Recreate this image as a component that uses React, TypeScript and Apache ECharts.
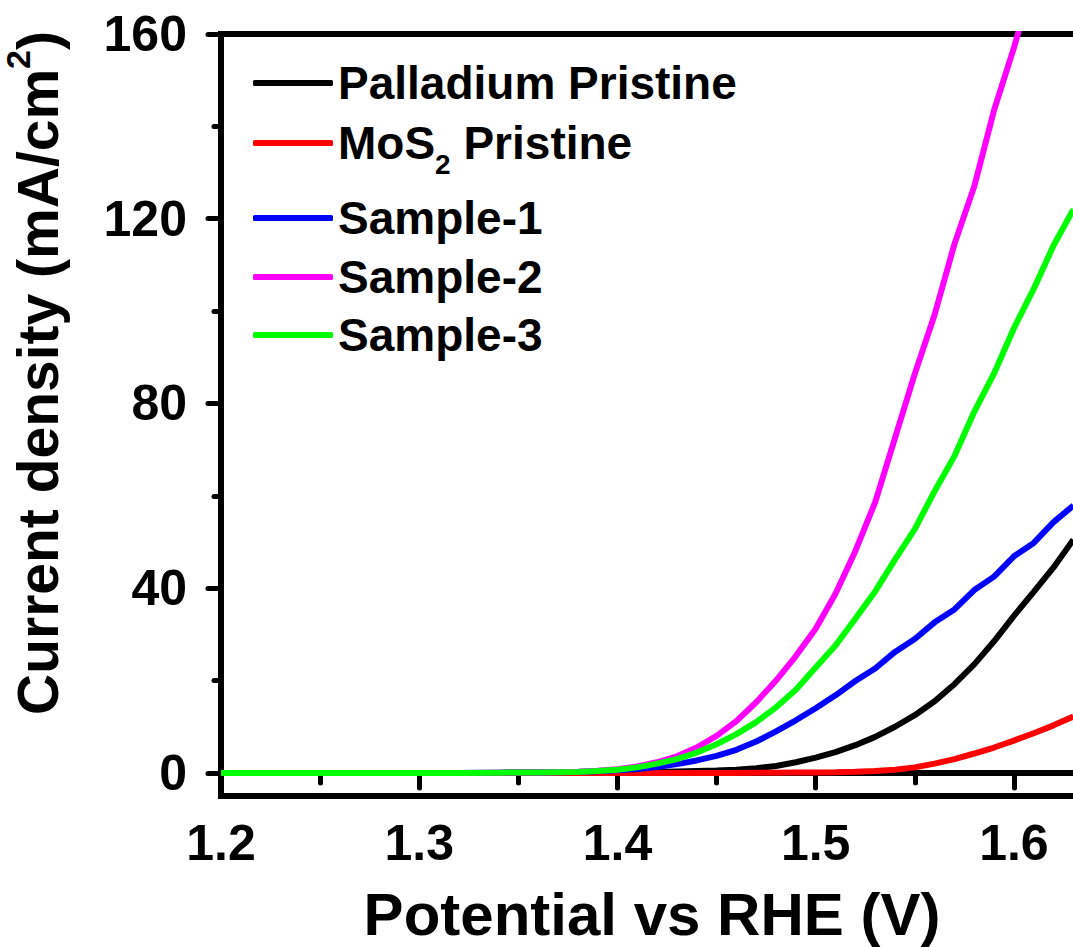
import React, { useEffect, useRef } from "react";
import * as echarts from "echarts";

const potential = [
  1.2, 1.22, 1.24, 1.26, 1.28, 1.3, 1.32, 1.34, 1.36, 1.38,
  1.39, 1.4, 1.41, 1.42, 1.43, 1.44, 1.45, 1.46, 1.47, 1.48, 1.49, 1.5,
  1.51, 1.52, 1.53, 1.54, 1.55, 1.56, 1.57, 1.58, 1.59, 1.6, 1.61, 1.62, 1.63,
];

const palladium = [
  0, 0, 0, 0, 0, 0, 0, 0, 0.05, 0.05,
  0.1, 0.1, 0.15, 0.2, 0.3, 0.4, 0.5, 0.7, 1.0, 1.5, 2.3, 3.3,
  4.5, 6.0, 7.8, 10.0, 12.5, 15.5, 19.2, 23.5, 28.5, 34.0, 39.2, 44.5, 50.5,
];
const mos2 = [
  0, 0, 0, 0, 0, 0, 0, 0, 0, 0,
  0, 0, 0, 0, 0, 0, 0, 0, 0.05, 0.05, 0.1, 0.1,
  0.15, 0.25, 0.4, 0.7, 1.2, 2.0, 3.0, 4.2, 5.5, 7.0, 8.6, 10.3, 12.2,
];
const sample1 = [
  0, 0, 0, 0, 0, 0, 0, 0.05, 0.1, 0.2,
  0.35, 0.55, 0.85, 1.3, 1.9, 2.7, 3.7, 5.0, 6.8, 9.0, 11.4, 14.0,
  16.8, 19.9, 22.6, 26.2, 29.0, 32.6, 35.4, 39.6, 42.5, 46.9, 49.8, 54.3, 57.9,
];
const sample2 = [
  0, 0, 0, 0, 0, 0, 0, 0.05, 0.1, 0.25,
  0.45, 0.8, 1.4, 2.3, 3.6, 5.5, 8.0, 11.2, 15.3, 20.0, 25.3, 31.2,
  38.8, 48.0, 58.6, 72.5, 86.4, 99.2, 114.5, 127.0, 143.5, 157.0, 172, 186, 200,
];
const sample3 = [
  0, 0, 0, 0, 0, 0, 0, 0.05, 0.1, 0.2,
  0.4, 0.7, 1.2, 2.0, 3.0, 4.4, 6.2, 8.4, 11.0, 14.2, 18.0, 22.8,
  27.6, 33.4, 39.3, 46.2, 52.8, 61.0, 68.6, 78.2, 86.5, 96.3, 104.8, 114.2, 122.0,
];

const seriesNames = ["Palladium Pristine", "MoS2 Pristine", "Sample-1", "Sample-2", "Sample-3"];
const seriesColors = ["#000000", "#ff0000", "#0000ff", "#ff00ff", "#00ff00"];
const seriesValues = [palladium, mos2, sample1, sample2, sample3];

const xMajorTicks = [1.2, 1.3, 1.4, 1.5, 1.6];
const xMinorTicks = [1.25, 1.35, 1.45, 1.55, 1.65];
const yMajorTicks = [0, 40, 80, 120, 160];
const yMinorTicks = [20, 60, 100, 140];

const FONT = "'Liberation Sans', Arial, Helvetica, sans-serif";

export default function App() {
  const ref = useRef<HTMLDivElement>(null);
  useEffect(() => {
    const chart = echarts.init(ref.current as HTMLDivElement, null, { renderer: "svg" });
    const legendRows = [83, 133, 218, 277, 335];
    const textBase = { fontFamily: FONT, fontWeight: "bold" as const, color: "#000" };
    const option: any = {
      animation: false,
      backgroundColor: "#fff",
      grid: {
        left: 221,
        top: 34,
        bottom: 151,
        right: -40,
        show: true,
        borderColor: "#000",
        borderWidth: 6,
        containLabel: false,
        outerBoundsMode: "none",
      },
      legend: seriesNames.map((n, i) => ({
        data: [n],
        left: 253,
        top: legendRows[i] - 25,
        orient: "vertical",
        icon: "roundRect",
        itemWidth: 80,
        itemHeight: 6,
        padding: 0,
        itemGap: 0,
        selectedMode: false,
        formatter: (name: string) => (name === "MoS2 Pristine" ? "MoS{sub|2} Pristine" : name),
        textStyle: {
          ...textBase,
          fontSize: 46,
          lineHeight: 50,
          rich: {
            sub: { ...textBase, fontSize: 28, lineHeight: 28, padding: [42, 0, 0, 0] },
          },
        },
      })),
      xAxis: [
        {
          type: "value",
          min: 1.2,
          max: 1.65,
          position: "bottom",
          axisLine: { lineStyle: { color: "#000", width: 6 } },
          axisTick: { customValues: xMajorTicks, length: 15, lineStyle: { color: "#000", width: 5, cap: "round" } },
          axisLabel: {
            customValues: xMajorTicks,
            formatter: (v: number) => v.toFixed(1),
            ...textBase,
            fontSize: 50,
            margin: 22,
          },
          splitLine: { show: false },
          name: "Potential vs RHE (V)",
          nameLocation: "middle",
          nameGap: 88,
          nameTextStyle: { ...textBase, fontSize: 60, padding: [0, 30, 0, 0] },
        },
        {
          type: "value",
          min: 1.2,
          max: 1.65,
          position: "bottom",
          axisLine: { show: false },
          axisTick: { customValues: xMinorTicks, length: 10, lineStyle: { color: "#000", width: 5, cap: "round" } },
          axisLabel: { show: false },
          splitLine: { show: false },
        },
      ],
      yAxis: [
        {
          type: "value",
          min: -5,
          max: 160,
          position: "left",
          axisLine: { lineStyle: { color: "#000", width: 6 } },
          axisTick: { customValues: yMajorTicks, length: 13, lineStyle: { color: "#000", width: 5, cap: "round" } },
          axisLabel: { customValues: yMajorTicks, ...textBase, fontSize: 50, margin: 34 },
          splitLine: { show: false },
          name: "Current density (mA/cm{sup|2})",
          nameLocation: "middle",
          nameGap: 146,
          nameTextStyle: {
            ...textBase,
            fontSize: 57,
            padding: [0, 0, 0, 84],
            rich: {
              sup: { ...textBase, fontSize: 34, padding: [0, 0, 40, 0] },
            },
          },
        },
        {
          type: "value",
          min: -5,
          max: 160,
          position: "left",
          axisLine: { show: false },
          axisTick: { customValues: yMinorTicks, length: 7, lineStyle: { color: "#000", width: 5, cap: "round" } },
          axisLabel: { show: false },
          splitLine: { show: false },
        },
      ],
      series: seriesNames.map((n, i) => ({
        name: n,
        type: "line",
        xAxisIndex: 0,
        yAxisIndex: 0,
        symbol: "none",
        clip: true,
        color: seriesColors[i],
        lineStyle: { color: seriesColors[i], width: 6 },
        data: potential.map((p, k) => [p, seriesValues[i][k]]),
      })),
    };
    chart.setOption(option);
    return () => chart.dispose();
  }, []);
  return (
    <div
      ref={ref}
      style={{ position: "absolute", left: 0, top: 0, width: 1073, height: 947, background: "#fff" }}
    />
  );
}
